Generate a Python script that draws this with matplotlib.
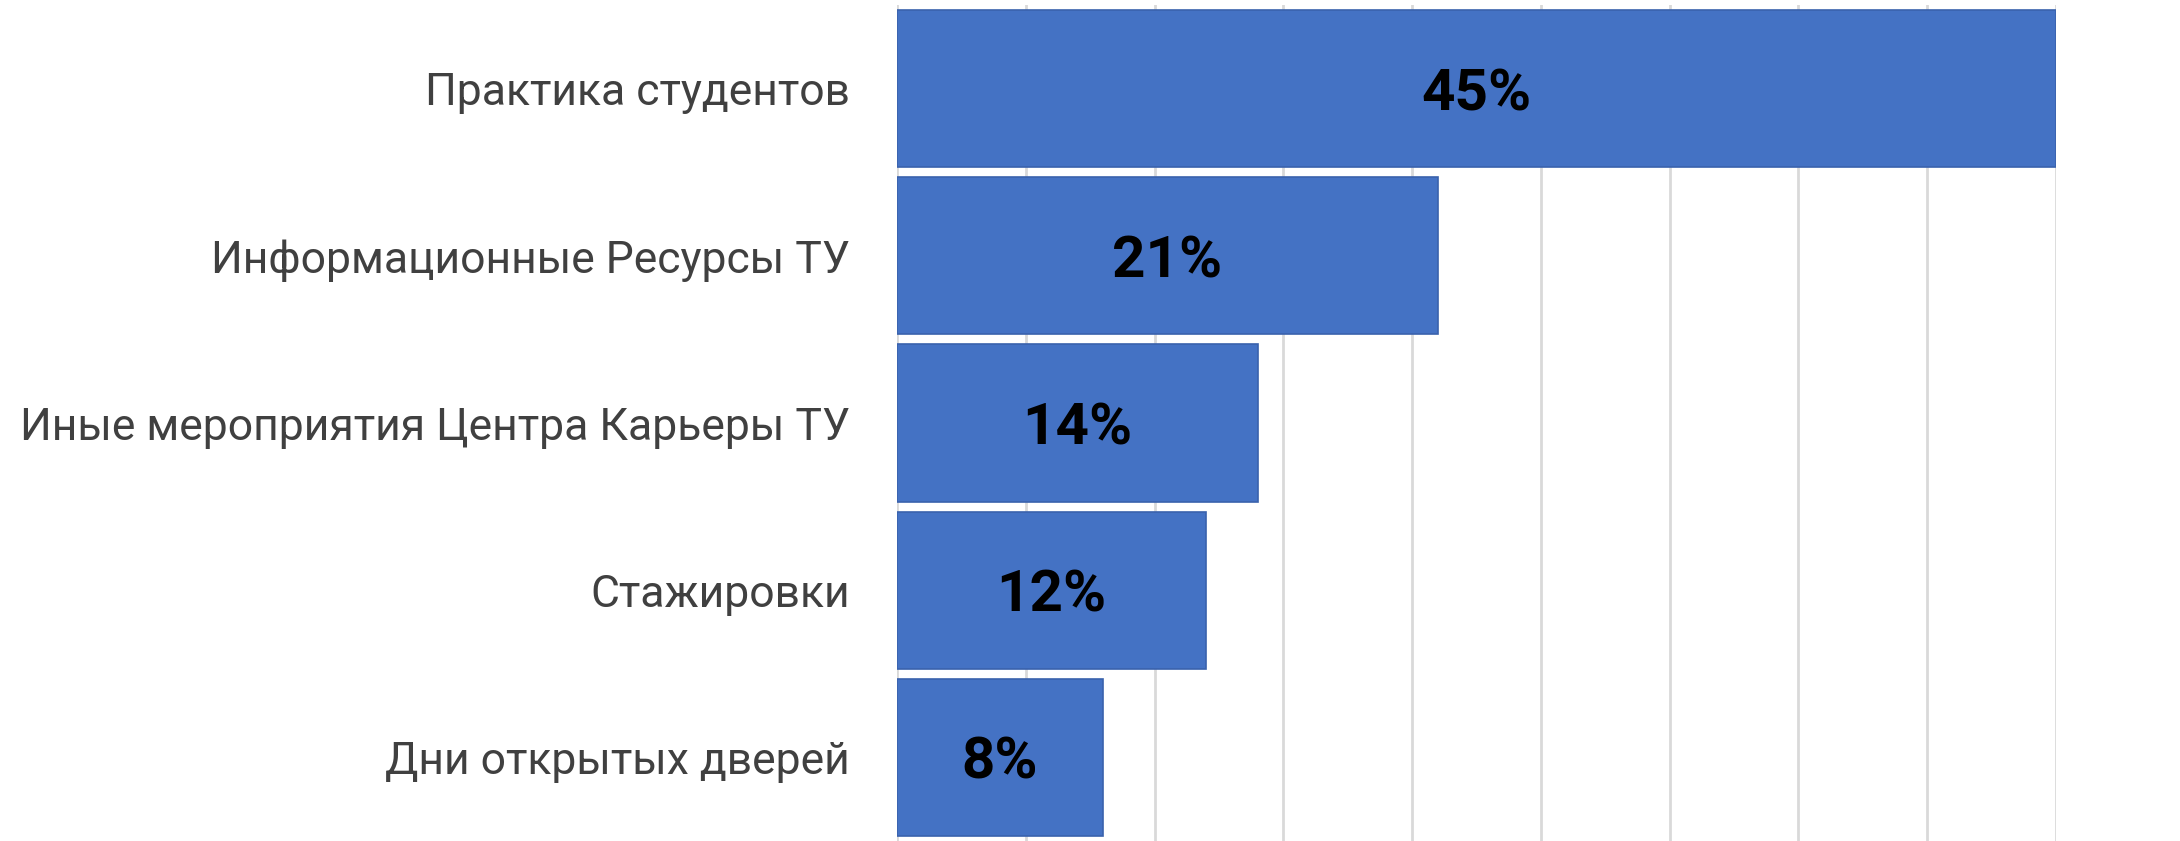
import matplotlib
matplotlib.use("Agg")
import matplotlib.pyplot as plt
import numpy as np

# --- DATA ---
categories = [
    "Практика студентов",
    "Информационные Ресурсы ТУ",
    "Иные мероприятия Центра Карьеры ТУ",
    "Стажировки",
    "Дни открытых дверей",
]
values = [45, 21, 14, 12, 8]
value_labels = ["45%", "21%", "14%", "12%", "8%"]

BAR_COLOR = "#4472C4"
EDGE_COLOR = "#3A62AD"
GRID_COLOR = "#D9D9D9"
TEXT_COLOR = "#404040"

fig = plt.figure(figsize=(21.8, 8.41), dpi=100)
ax = fig.add_axes([897 / 2180, 0.0, (2056 - 897) / 2180, (841 - 5) / 841])

y = np.arange(len(categories))
bars = ax.barh(y, values, height=0.94, color=BAR_COLOR, edgecolor=EDGE_COLOR,
               linewidth=1.2, zorder=3)

for bar, lab in zip(bars, value_labels):
    cx = bar.get_x() + bar.get_width() / 2
    cy = bar.get_y() + bar.get_height() / 2
    ax.text(cx, cy, lab, ha="center", va="center_baseline", fontsize=42,
            fontweight="bold", family="Roboto", color="black", zorder=4)

ax.set_xlim(0, 45)
ax.set_ylim(len(categories) - 0.5, -0.5)
ax.set_xticks(np.arange(0, 46, 5))
ax.set_xticklabels([])
ax.tick_params(axis="x", length=0)
ax.set_yticks(y)
ax.set_yticklabels(categories, fontsize=32, family="Roboto", color=TEXT_COLOR)
ax.tick_params(axis="y", length=0, pad=34)
ax.grid(axis="x", color=GRID_COLOR, linewidth=2, zorder=0)
for s in ax.spines.values():
    s.set_visible(False)

fig.savefig("out.png", dpi=100)
